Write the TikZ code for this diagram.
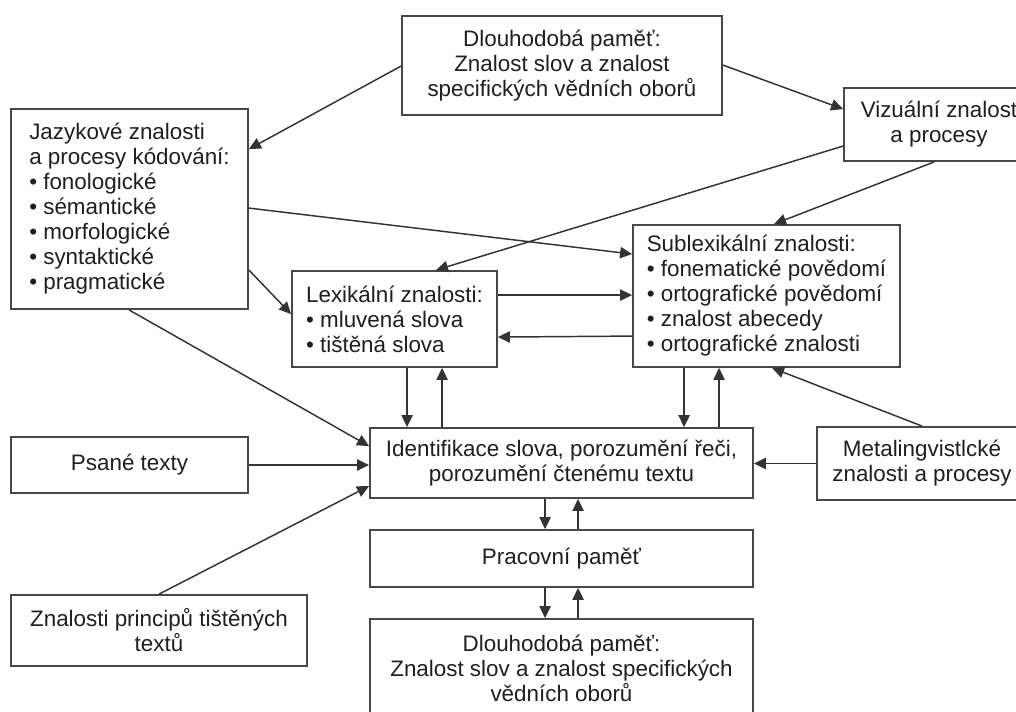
\documentclass[tikz,border=0pt]{standalone}
\usepackage{fontspec}
\setmainfont{Liberation Sans}
\usetikzlibrary{arrows.meta,calc}
\begin{document}
\begin{tikzpicture}[x=0.75pt,y=-0.75pt,
  box/.style={draw=black!72,line width=1.4pt,fill=white,inner sep=0pt,
    font=\fontsize{16.8}{18.75}\selectfont,text=black!88},
  arr/.style={draw=black!80,line width=1.1pt,-{Triangle[length=9pt,width=8.5pt]}}]
\useasboundingbox (0,0) rectangle (1016,711);
\fill[white] (0,0) rectangle (1016,711);

\node[box,minimum width=320*0.75pt,minimum height=99*0.75pt,align=center] (dlT) at (562,65.5)
  {Dlouhodobá paměť:\\Znalost slov a znalost\\specifických vědních oborů};
\node[box,minimum width=237*0.75pt,minimum height=200*0.75pt,align=left] (jaz) at (129.5,209)
  {Jazykové znalosti\\a procesy kódování:\\\textbullet\ fonologické\\\textbullet\ sémantické\\\textbullet\ morfologické\\\textbullet\ syntaktické\\\textbullet\ pragmatické};
\node[box,minimum width=190*0.75pt,minimum height=73*0.75pt,align=center] (viz) at (939,124.5)
  {Vizuální znalost\\a procesy};
\node[box,minimum width=267*0.75pt,minimum height=142*0.75pt,align=left] (sub) at (766.5,296)
  {Sublexikální znalosti:\\\textbullet\ fonematické povědomí\\\textbullet\ ortografické povědomí\\\textbullet\ znalost abecedy\\\textbullet\ ortografické znalosti};
\node[box,minimum width=205*0.75pt,minimum height=96*0.75pt,align=left] (lex) at (394.5,319)
  {Lexikální znalosti:\\\textbullet\ mluvená slova\\\textbullet\ tištěná slova};
\node[box,minimum width=383*0.75pt,minimum height=70*0.75pt,align=center] (idt) at (561.5,463)
  {Identifikace slova, porozumění řeči,\\porozumění čtenému textu};
\node[box,minimum width=237*0.75pt,minimum height=56*0.75pt,align=center] (psa) at (129.5,465)
  {Psané texty};
\node[box,minimum width=210*0.75pt,minimum height=73*0.75pt,align=center] (met) at (922,463.5)
  {Metalingvistlcké\\znalosti a procesy};
\node[box,minimum width=383*0.75pt,minimum height=57*0.75pt,align=center] (pra) at (561.5,558.5)
  {Pracovní paměť};
\node[box,minimum width=296*0.75pt,minimum height=71*0.75pt,align=center] (zna) at (159,630.5)
  {Znalosti principů tištěných\\textů};
\node[box,minimum width=383*0.75pt,minimum height=99*0.75pt,align=center] (dlB) at (561.5,668.5)
  {Dlouhodobá paměť:\\Znalost slov a znalost specifických\\vědních oborů};

% arrows
\draw[arr] ($(dlT.north west)+(0,51)$) -- ($(jaz.north east)+(0,41)$);
\draw[arr] ($(dlT.north east)+(0,50)$) -- ($(viz.north west)+(0,22)$);
\draw[arr] ($(viz.north west)+(0,59)$) -- ($(lex.north west)+(145,0)$);
\draw[arr] ($(viz.south west)+(91,0)$) -- ($(sub.north west)+(142,0)$);
\draw[arr] ($(jaz.north east)+(0,100)$) -- ($(sub.north west)+(0,30)$);
\draw[arr] ($(jaz.north east)+(0,162)$) -- ($(lex.north west)+(0,44)$);
\draw[arr] ($(lex.north east)+(0,25)$) -- ($(sub.north west)+(0,71)$);
\draw[arr] ($(sub.north west)+(0,112)$) -- ($(lex.north east)+(0,67)$);
\draw[arr] ($(jaz.south west)+(119,0)$) -- ($(idt.north west)+(0,19)$);
\draw[arr] (psa.east) -- (psa.east -| idt.west);
\draw[arr] ($(zna.north west)+(149,0)$) -- ($(idt.north west)+(0,59)$);
\coordinate (l1) at ($(lex.south west)+(116,0)$);
\coordinate (l2) at ($(lex.south west)+(151,0)$);
\draw[arr] (l1) -- (l1 |- idt.north);
\draw[arr] (l2 |- idt.north) -- (l2);
\coordinate (s1) at ($(sub.south west)+(52,0)$);
\coordinate (s2) at ($(sub.south west)+(87,0)$);
\draw[arr] (s1) -- (s1 |- idt.north);
\draw[arr] (s2 |- idt.north) -- (s2);
\draw[arr] (met.north) -- ($(sub.south west)+(140,0)$);
\draw[arr] (met.west) -- (met.west -| idt.east);
\coordinate (p1) at ($(idt.south west)+(176,0)$);
\coordinate (p2) at ($(idt.south west)+(209,0)$);
\draw[arr] (p1) -- (p1 |- pra.north);
\draw[arr] (p2 |- pra.north) -- (p2);
\draw[arr] (p1 |- pra.south) -- (p1 |- dlB.north);
\draw[arr] (p2 |- dlB.north) -- (p2 |- pra.south);
\end{tikzpicture}
\end{document}
